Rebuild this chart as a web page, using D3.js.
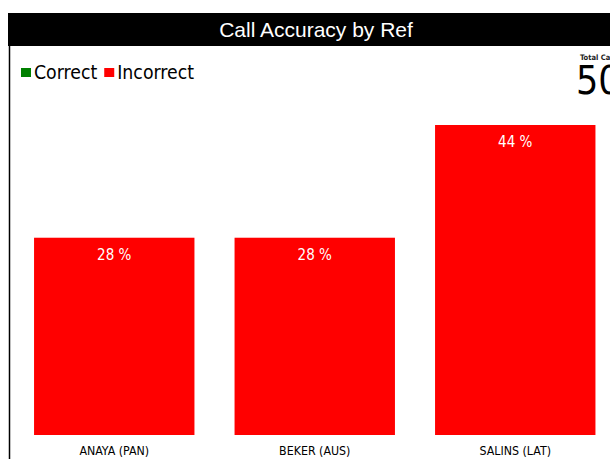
<!DOCTYPE html>
<html>
<head>
<meta charset="utf-8">
<script src="https://cdn.jsdelivr.net/npm/d3@7"></script>
<style>
  body { margin: 0; background: #fff; overflow: hidden; }
  .cond { font-family: "DejaVu Sans Condensed", "DejaVu Sans", sans-serif; font-stretch: condensed; }
</style>
</head>
<body>
<svg id="chart" width="610" height="459"></svg>
<script>
var refs = ["ANAYA (PAN)", "BEKER (AUS)", "SALINS (LAT)"];
var incorrectPct = [28, 28, 44];
var legendItems = [
  { name: "Correct", color: "#008000" },
  { name: "Incorrect", color: "#ff0000" }
];
var totalCalls = 50;

var svg = d3.select("#chart");
var width = 610;
var height = 459;

// header bar
svg.append("rect")
  .attr("x", 8).attr("y", 13)
  .attr("width", width - 8).attr("height", 33)
  .style("fill", "black");

svg.append("text")
  .text("Call Accuracy by Ref")
  .attr("x", 316).attr("y", 37)
  .style("text-anchor", "middle")
  .style("font-family", "Liberation Sans, Arial, sans-serif")
  .style("font-size", "21px")
  .style("fill", "white");

// left border
svg.append("line")
  .attr("x1", 9.5).attr("x2", 9.5)
  .attr("y1", 13).attr("y2", height)
  .style("stroke", "black")
  .style("stroke-width", 1.5);

// legend
var legend = svg.append("g").attr("transform", "translate(21, 68)");
var lx = 0;
legendItems.forEach(function (d) {
  legend.append("rect")
    .attr("x", lx).attr("y", 0)
    .attr("width", 10).attr("height", 9)
    .style("fill", d.color);
  var t = legend.append("text")
    .attr("class", "cond")
    .text(d.name)
    .attr("x", lx + 13).attr("y", 11)
    .style("font-size", "19.3px")
    .style("fill", "black");
  lx += 13 + t.node().getComputedTextLength() + 7;
});

// total calls (clipped at right edge like the original)
svg.append("text")
  .attr("class", "cond")
  .text("Total Calls")
  .attr("x", 580).attr("y", 60)
  .style("font-size", "7.5px")
  .style("font-weight", "bold")
  .style("fill", "#222");

svg.append("text")
  .attr("class", "cond")
  .text(totalCalls)
  .attr("x", 576).attr("y", 94)
  .style("font-size", "39px")
  .style("fill", "black");

// bars
var x = d3.scaleBand()
  .domain(refs)
  .range([14, 615.5])
  .paddingInner(0.2)
  .paddingOuter(0.1);

var y = d3.scaleLinear()
  .domain([0, 44])
  .range([435, 125]);

var data = refs.map(function (r, i) { return { ref: r, value: incorrectPct[i] }; });

svg.append("g")
  .selectAll("rect")
  .data(data)
  .enter()
  .append("rect")
  .attr("x", function (d) { return x(d.ref); })
  .attr("y", function (d) { return y(d.value); })
  .attr("width", x.bandwidth())
  .attr("height", function (d) { return y(0) - y(d.value); })
  .style("fill", "#ff0000");

svg.append("g")
  .selectAll("text")
  .data(data)
  .enter()
  .append("text")
  .attr("class", "cond")
  .text(function (d) { return d.value + " %"; })
  .attr("x", function (d) { return x(d.ref) + x.bandwidth() / 2; })
  .attr("y", function (d) { return y(d.value) + 22; })
  .style("text-anchor", "middle")
  .style("font-size", "15px")
  .style("fill", "white");

// category labels
svg.append("g")
  .selectAll("text")
  .data(refs)
  .enter()
  .append("text")
  .attr("class", "cond")
  .text(function (d) { return d; })
  .attr("x", function (d) { return x(d) + x.bandwidth() / 2; })
  .attr("y", 455)
  .style("text-anchor", "middle")
  .style("font-size", "12.3px")
  .style("fill", "black");
</script>
</body>
</html>
